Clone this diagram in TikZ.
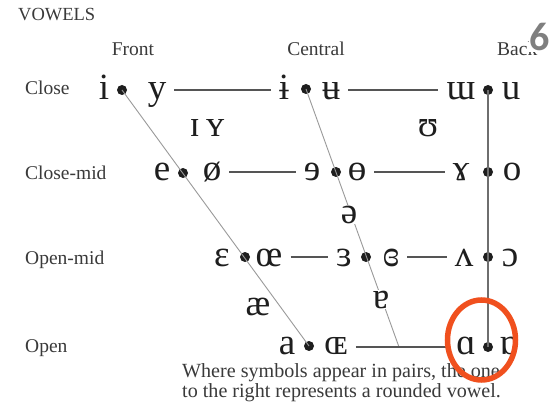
\documentclass[tikz,border=0pt]{standalone}
\usepackage{fontspec}
\setmainfont{Liberation Serif}
\newfontfamily\sixfont{Carlito}
\definecolor{txtgray}{HTML}{3A3A3A}
\definecolor{ipablack}{HTML}{1E1E1E}
\definecolor{slantgray}{HTML}{9A9A9A}
\definecolor{hgray}{HTML}{555555}
\definecolor{sixgray}{HTML}{7F7F7F}
\definecolor{ringorange}{HTML}{F0501E}
\begin{document}
\begin{tikzpicture}[x=1pt,y=-1pt,
  lbl/.style={font=\fontsize{19.5}{20}\selectfont, text=txtgray, inner sep=0pt},
  ipa/.style={font=\fontsize{37}{37}\selectfont, text=ipablack, inner xsep=8pt, inner ysep=0pt, anchor=base},
  ipaw/.style={font=\fontsize{37}{37}\selectfont, text=ipablack, inner sep=1pt, anchor=base, fill=white},
  dotnode/.style={circle, fill=ipablack, inner sep=0pt, minimum size=10pt},
  slant/.style={draw=slantgray, line width=0.9pt},
  hline/.style={draw=hgray, line width=1.1pt},
  vline/.style={draw=hgray!85, line width=1.4pt}
]
\useasboundingbox[fill=white] (0,0) rectangle (558,404);

% dots
\node[dotnode] (iD)  at (122,90)  {};
\node[dotnode] (eD)  at (183,173) {};
\node[dotnode] (epD) at (245,257) {};
\node[dotnode] (aD)  at (309,346) {};
\node[dotnode] (c1D) at (306,89)  {};
\node[dotnode] (c2D) at (336,172) {};
\node[dotnode] (c3D) at (366,257) {};
\coordinate (cEnd) at (399,347);
\node[dotnode] (b1D) at (488,90)  {};
\node[dotnode] (b2D) at (488,172) {};
\node[dotnode] (b3D) at (488,257) {};
\node[dotnode] (b4D) at (488,347) {};

% slanted and vertical lines
\draw[slant] (iD.center) -- (aD.center);
\draw[slant] (c1D.center) -- (cEnd);
\draw[vline] (b1D.center) -- (b4D.center);

% close row
\node[ipa] (i)    at (104,100) {i};
\node[ipa] (y)    at (157,100) {y};
\node[ipa] (ibar) at (284,100) {ɨ};
\node[ipa] (ubar) at (331,100) {ʉ};
\node[ipa] (turm) at (461,100) {ɯ};
\node[ipa] (u)    at (511,100) {u};
% near-close
\node[ipa] (smI)  at (207,137) {ɪ\,ʏ};
\node[ipa] (upsi) at (428,137) {ʊ};
% close-mid
\node[ipa] (e)    at (162,181) {e};
\node[ipa] (oslash) at (212,181) {ø};
\node[ipa] (reve) at (312,181) {ɘ};
\node[ipa] (baro) at (357,181) {ɵ};
\node[ipa] (gam)  at (461,181) {ɤ};
\node[ipa] (o)    at (512,181) {o};
% schwa
\node[ipaw] (schwa) at (349,223) {ə};
% open-mid
\node[ipa] (eps)  at (222,266) {ɛ};
\node[ipa] (oe)   at (269,266) {œ};
\node[ipa] (reps) at (344,266) {ɜ};
\node[ipa] (clreps) at (391,266) {ɞ};
\node[ipa] (wedge) at (464,266) {ʌ};
\node[ipa] (openo) at (510,266) {ɔ};
% near-open
\node[ipa] (ash)  at (258,315) {æ};
\node[ipaw] (turna) at (381,308) {ɐ};
% open
\node[ipa] (a)    at (287,354) {a};
\node[ipa] (OE)   at (336,354) {ɶ};
\node[ipa] (scripta) at (466,354) {ɑ};
\node[ipa] (turnscripta) at (509,354) {ɒ};

% horizontal lines
\draw[hline] (y.east |- iD) -- (ibar.west |- iD);
\draw[hline] (ubar.east |- iD) -- (turm.west |- iD);
\draw[hline] (oslash.east |- c2D) -- (reve.west |- c2D);
\draw[hline] (baro.east |- c2D) -- (gam.west |- c2D);
\draw[hline] (oe.east |- c3D) -- (reps.west |- c3D);
\draw[hline] (clreps.east |- c3D) -- (wedge.west |- c3D);
\draw[hline] (OE.east |- cEnd) -- (scripta.west |- cEnd);

% labels
\node[lbl, anchor=base west, font=\fontsize{18.5}{19}\selectfont] (vow) at (18,21) {VOWELS};
\node[lbl, anchor=base] (front) at (133,56) {Front};
\node[lbl, anchor=base] (central) at (316,56) {Central};
\node[lbl, anchor=base west] (back) at (497,56) {Back};
\node[lbl, anchor=base west] (close) at (25,95) {Close};
\node[lbl, anchor=base west] (closemid) at (25,179) {Close-mid};
\node[lbl, anchor=base west] (openmid) at (25,264) {Open-mid};
\node[lbl, anchor=base west] (open) at (25,352) {Open};
\node[lbl, anchor=base west, font=\fontsize{20.1}{20}\selectfont] (fn1) at (182,377) {Where symbols appear in pairs, the one};
\node[lbl, anchor=base west, font=\fontsize{20.1}{20}\selectfont] (fn2) at (182,397) {to the right represents a rounded vowel.};

% slide number
\node[font=\sixfont\bfseries\fontsize{40}{40}\selectfont, text=sixgray, fill=white, inner sep=1pt] (six) at (540,37) {6};

% highlight ring
\draw[ringorange, line width=5.5pt] (481.5,340) ellipse [x radius=34, y radius=40];
\end{tikzpicture}
\end{document}
